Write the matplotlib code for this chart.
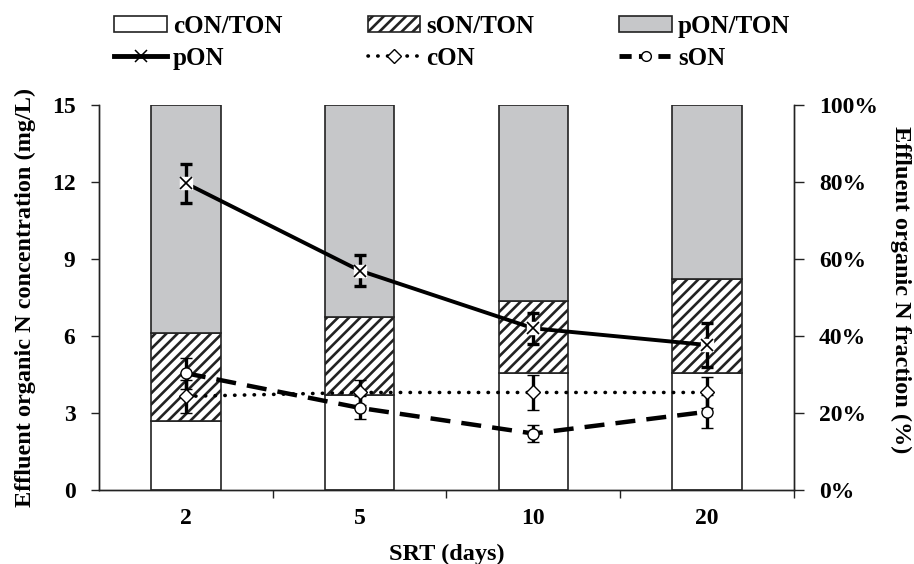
import numpy as np
import matplotlib
matplotlib.use("Agg")
import matplotlib.pyplot as plt
from matplotlib.patches import Patch
from matplotlib.lines import Line2D
from matplotlib.ticker import FixedLocator, PercentFormatter

# SRT categories
srt_labels = ["2", "5", "10", "20"]

# fractions of TON (%), stacked bars on the right axis
con_frac = [18.0, 24.7, 30.5, 30.3]
son_frac = [22.7, 20.3, 18.6, 24.5]
pon_frac = [59.3, 55.0, 50.9, 45.2]

# concentrations (mg/L) with error bars, left axis
pon = [11.95, 8.55, 6.3, 5.65]
pon_err = [0.75, 0.62, 0.6, 0.85]
con = [3.65, 3.8, 3.8, 3.8]
con_err = [0.65, 0.5, 0.7, 0.6]
son = [4.55, 3.2, 2.2, 3.05]
son_err = [0.6, 0.45, 0.33, 0.65]

GRAY = "#c6c7c9"
EDGE = "#222222"

plt.rcParams["font.family"] = ["Liberation Serif", "DejaVu Serif"]
plt.rcParams["font.weight"] = "bold"
plt.rcParams["hatch.linewidth"] = 1.9


def main():
    fig = plt.figure(figsize=(9.14, 5.64), dpi=100)
    ax = fig.add_axes([0.1083, 0.1312, 0.7604, 0.6826])
    ax2 = ax.twinx()
    # lines in front of the bars
    ax.set_zorder(ax2.get_zorder() + 1)
    ax.patch.set_visible(False)

    x = np.arange(len(srt_labels))
    w = 0.4

    # stacked fraction bars
    bottom = np.zeros(len(x))
    ax2.bar(x, con_frac, w, bottom=bottom, color="white", edgecolor=EDGE, linewidth=1.2)
    bottom += con_frac
    ax2.bar(x, son_frac, w, bottom=bottom, color="white", edgecolor=EDGE,
            hatch="///", linewidth=1.2)
    bottom += son_frac
    ax2.bar(x, pon_frac, w, bottom=bottom, color=GRAY, edgecolor=EDGE, linewidth=1.2)

    ax2.set_ylim(0, 100)
    ax2.yaxis.set_major_locator(FixedLocator([0, 20, 40, 60, 80, 100]))
    ax2.yaxis.set_major_formatter(PercentFormatter(decimals=0))

    # concentration lines
    ebar = dict(ecolor="black", elinewidth=2.4, capsize=4.5, capthick=2.4)
    ax.errorbar(x, son, yerr=son_err, color="black", lw=3.2, ls=(0, (4.5, 2.5)),
                marker="o", ms=8, mfc="white", mec="black", mew=1, **ebar)
    ax.errorbar(x, con, yerr=con_err, color="black", lw=2.6, ls=(0, (0.1, 2.6)),
                dash_capstyle="round", marker="D", ms=7, mfc="white", mec="black",
                mew=1, **ebar)
    ax.errorbar(x, pon, yerr=pon_err, color="black", lw=2.8, ls="-",
                marker="s", ms=9, mfc="white", mec="white", **ebar)
    ax.plot(x, pon, ls="none", marker="x", ms=9, mew=1.2, color="black", zorder=5)

    ax.set_xlim(-0.5, 3.5)
    ax.set_ylim(0, 15)
    ax.yaxis.set_major_locator(FixedLocator([0, 3, 6, 9, 12, 15]))
    ax.set_xticks(x)
    ax.set_xticklabels(srt_labels)
    ax.set_xticks([0.5, 1.5, 2.5, 3.5], minor=True)

    for a in (ax, ax2):
        a.spines["top"].set_visible(False)
        for s in ("left", "right", "bottom"):
            a.spines[s].set_linewidth(1.0)
            a.spines[s].set_color("#222222")

    ax.tick_params(axis="x", which="major", length=0, pad=13, labelsize=17)
    ax.tick_params(axis="x", which="minor", length=6, width=1, color="#222222")
    ax.tick_params(axis="y", length=6, width=1, pad=11, labelsize=17, color="#222222")
    ax2.tick_params(axis="y", length=7, width=1, pad=11, labelsize=17, color="#222222")

    ax.set_xlabel("SRT (days)", fontsize=17.5, fontweight="bold", va="center")
    ax.xaxis.set_label_coords(0.5, -0.168)
    ax.set_ylabel("Effluent organic N concentration (mg/L)", fontsize=17.5,
                  fontweight="bold", ha="center", va="center")
    ax.yaxis.set_label_coords(-0.106, 0.5)
    ax2.set_ylabel("Effluent organic N fraction (%)", fontsize=17.5,
                   fontweight="bold", rotation=270, ha="center", va="center")
    ax2.yaxis.set_label_coords(1.154, 0.52)

    # legend, row-wise order arranged for column filling
    handles = [
        Patch(facecolor="white", edgecolor=EDGE, linewidth=1.2, label="cON/TON"),
        Line2D([], [], color="black", lw=3.5, marker="x", ms=8, mew=1.1,
               label="pON"),
        Patch(facecolor="white", edgecolor=EDGE, hatch="///", linewidth=1.2,
              label="sON/TON"),
        Line2D([], [], color="black", lw=2.6, ls=(0, (0.1, 2.6)),
               dash_capstyle="round", marker="D", ms=7, mfc="white", mec="black",
               mew=1, label="cON"),
        Patch(facecolor=GRAY, edgecolor=EDGE, linewidth=1.2, label="pON/TON"),
        Line2D([], [], color="black", lw=3.5, ls=(0, (2.5, 1.5)), marker="o",
               ms=7, mfc="white", mec="black", mew=1, label="sON"),
    ]
    fig.legend(handles=handles, ncol=3, loc="upper left",
               bbox_to_anchor=(0.125, 1.0 - 15 / 564), frameon=False,
               fontsize=18, handlelength=2.1, handleheight=0.6,
               handletextpad=0.25, columnspacing=3.4, labelspacing=0.35,
               borderpad=0, borderaxespad=0)

    fig.savefig("out.png", dpi=100)


if __name__ == "__main__":
    main()
